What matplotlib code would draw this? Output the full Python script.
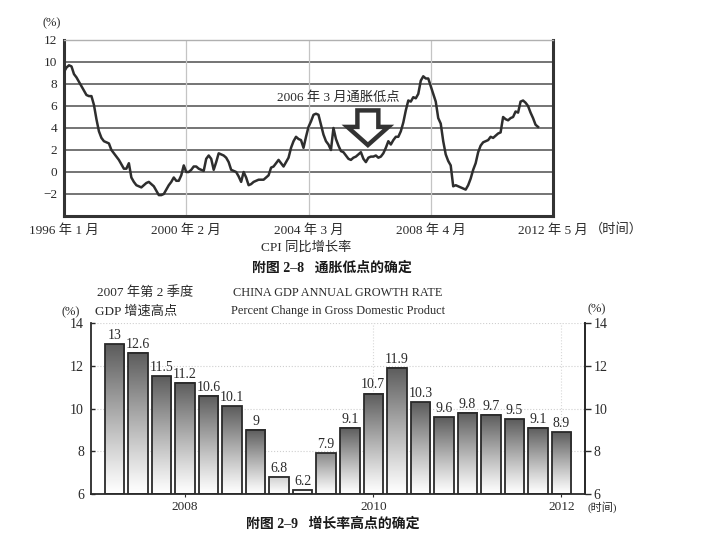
import numpy as np
import matplotlib
matplotlib.use('Agg')
import matplotlib.pyplot as plt
from matplotlib.patches import Polygon

# ---------------- data ----------------
# CPI year-on-year growth (%), monthly from 1996-01
cpi = [9.1, 9.5, 9.7, 9.6, 8.9, 8.6, 8.2, 7.8, 7.4, 7.0, 6.9, 6.9,
       6.1, 4.8, 3.7, 3.1, 2.8, 2.7, 2.6, 2.0, 1.7, 1.4, 1.1, 0.7,
       0.3, 0.3, 0.8, -0.5, -0.9, -1.2, -1.3, -1.4, -1.2, -1.0, -0.9, -1.1,
       -1.3, -1.7, -2.1, -2.1, -2.0, -1.6, -1.2, -0.9, -0.5, -0.8, -0.8, -0.3,
       0.6, 0.0, 0.0, 0.2, 0.5, 0.5, 0.3, 0.2, 0.1, 1.2, 1.5, 1.2,
       0.2, 0.9, 1.7, 1.6, 1.5, 1.3, 0.9, 0.2, 0.1, 0.0, -0.4, -0.9,
       0.0, -0.5, -1.2, -1.1, -0.9, -0.8, -0.7, -0.7, -0.7, -0.5, -0.3, 0.4,
       0.5, 0.8, 1.1, 0.8, 0.5, 0.9, 1.3, 2.2, 2.8, 3.2, 3.0, 2.9,
       2.2, 3.2, 4.1, 4.6, 5.2, 5.3, 5.2, 4.3, 3.4, 2.8, 2.5, 2.0,
       4.0, 3.0, 2.4, 1.9, 1.8, 1.5, 1.2, 1.1, 1.3, 1.4, 1.6, 1.8,
       1.2, 0.9, 1.3, 1.4, 1.4, 1.5, 1.3, 1.4, 1.7, 2.2, 2.8, 2.5,
       2.9, 3.2, 3.2, 3.7, 4.5, 5.6, 6.5, 6.4, 6.8, 6.7, 7.1, 8.3,
       8.7, 8.5, 8.5, 7.8, 7.1, 6.4, 4.9, 4.4, 2.8, 1.6, 1.0, 0.6,
       -1.3, -1.2, -1.3, -1.4, -1.5, -1.6, -1.2, -0.6, 0.2, 0.8, 1.8, 2.4,
       2.7, 2.8, 2.9, 3.2, 3.1, 3.3, 3.5, 3.6, 5.0, 4.8, 4.7, 4.9,
       5.0, 5.5, 5.4, 6.4, 6.5, 6.3, 6.0, 5.4, 4.9, 4.3, 4.1]
cpi_tick_pos = [0, 49, 98, 147, 196]
cpi_tick_labels = ['1996 年 1 月', '2000 年 2 月', '2004 年 3 月', '2008 年 4 月', '2012 年 5 月']
cpi_yticks = [-2, 0, 2, 4, 6, 8, 10, 12]
low_point_month = 121.8  # 2006-03

# GDP growth (%), quarterly 2007Q2 - 2012Q1
gdp_vals = [13, 12.6, 11.5, 11.2, 10.6, 10.1, 9, 6.8, 6.2, 7.9,
            9.1, 10.7, 11.9, 10.3, 9.6, 9.8, 9.7, 9.5, 9.1, 8.9]
gdp_tick_idx = [3, 11, 19]
gdp_tick_labels = ['2008', '2010', '2012']
gdp_yticks = [6, 8, 10, 12, 14]

# ---------------- style ----------------
plt.rcParams['font.family'] = ['Liberation Serif', 'Noto Sans CJK SC', 'DejaVu Sans']
plt.rcParams['axes.unicode_minus'] = True
W, H = 707, 540
fig = plt.figure(figsize=(7.07, 5.40), dpi=100)
fig.patch.set_facecolor('white')

def fx(x):
    return x / W

def fy(y):
    return 1 - y / H

TXT = '#2a2a2a'

# ================= top chart: CPI =================
ax1 = fig.add_axes([fx(64), fy(216), fx(553) - fx(64), fy(40) - fy(216)])
months = np.arange(len(cpi))
for yv in cpi_yticks[:-1]:
    ax1.axhline(yv, color='#5c5c5c', lw=1.2, zorder=1)
for xv in cpi_tick_pos[1:-1]:
    ax1.axvline(xv, color='#c4c4c4', lw=0.9, zorder=1)
ax1.plot(months, cpi, color='#2e2e2e', lw=1.8, zorder=3, solid_joinstyle='round')
ax1.set_xlim(0, 196)
ax1.set_ylim(-4, 12)
ax1.set_xticks(cpi_tick_pos)
ax1.set_xticklabels(cpi_tick_labels)
ax1.set_yticks(cpi_yticks)
ax1.set_yticklabels([str(v).replace('-', '−') for v in cpi_yticks])
ax1.tick_params(length=0, labelsize=9.5, colors=TXT)
ax1.tick_params(axis='x', pad=6)
ax1.tick_params(axis='y', pad=5)
for s in ['left', 'bottom', 'right']:
    ax1.spines[s].set_color('#333333')
    ax1.spines[s].set_linewidth(2.2)
ax1.spines['top'].set_color('#b0b0b0')
ax1.spines['top'].set_linewidth(1.0)

# hollow down arrow marking the low point
cx = low_point_month
sw, hw = 4.2, 8.2
arrow_pts = [(cx - sw, 5.6), (cx + sw, 5.6), (cx + sw, 4.1), (cx + hw, 4.1),
             (cx, 2.45), (cx - hw, 4.1), (cx - sw, 4.1)]
ax1.add_patch(Polygon(arrow_pts, closed=True, facecolor='white', edgecolor='#333333',
                      lw=3.2, joinstyle='miter', zorder=5))
ax1.text(cx - 12, 6.8, '2006 年 3 月通胀低点', ha='center', va='center',
         fontsize=9.5, color=TXT, zorder=6)

fig.text(fx(52), fy(23), '(%)', ha='center', va='center', fontsize=9, color=TXT)
fig.text(fx(590), fy(229), '（时间）', ha='left', va='center', fontsize=9.5, color=TXT)
fig.text(fx(306), fy(248), 'CPI 同比增长率', ha='center', va='center', fontsize=9.5, color=TXT)
fig.text(fx(332), fy(268), '附图 2–8   通胀低点的确定', ha='center', va='center',
         fontsize=10, fontweight='bold', color='#1a1a1a')

# ================= bottom chart: GDP =================
ax2 = fig.add_axes([fx(91), fy(494), fx(585) - fx(91), fy(323) - fy(494)])
xs = np.arange(len(gdp_vals))
bw = 0.83
base = 6
for yv in gdp_yticks[1:]:
    ax2.axhline(yv, color='#cfcfcf', lw=0.8, ls=':', zorder=1)
for xi in gdp_tick_idx[1:]:
    ax2.axvline(xi, color='#d8d8d8', lw=0.8, ls=':', zorder=1)

for x, h in zip(xs, gdp_vals):
    t = np.linspace(0, 1, 120).reshape(-1, 1)
    top_dark = 0.64 * min(1.0, (h - base) / 2.6)
    v = 1 - top_dark * t ** 1.1
    img = np.dstack([v, v, v])
    ax2.imshow(img, extent=[x - bw / 2, x + bw / 2, base, h], aspect='auto',
               origin='lower', interpolation='bilinear', zorder=2)
ax2.bar(xs, np.array(gdp_vals) - base, bottom=base, width=bw, facecolor='none',
        edgecolor='#2a2a2a', lw=1.3, zorder=3)
for x, h in zip(xs, gdp_vals):
    lab = str(int(h)) if float(h).is_integer() else str(h)
    ax2.text(x, h + 0.1, lab, ha='center', va='bottom', fontsize=10, color=TXT, zorder=4)

ax2.set_xlim(-1, 20)
ax2.set_ylim(6, 14)
ax2.set_xticks(gdp_tick_idx)
ax2.set_xticklabels(gdp_tick_labels)
ax2.set_yticks(gdp_yticks)
ax2.tick_params(axis='y', direction='in', length=3, width=1, labelsize=10, colors=TXT, pad=5)
ax2.tick_params(axis='x', direction='out', length=2, width=0.8, labelsize=9.5, colors=TXT, pad=3)
ax2.spines['top'].set_visible(False)
for s in ['left', 'bottom', 'right']:
    ax2.spines[s].set_color('#2a2a2a')
    ax2.spines[s].set_linewidth(1.3)

ax2r = ax2.twinx()
ax2r.set_ylim(6, 14)
ax2r.set_yticks(gdp_yticks)
ax2r.tick_params(axis='y', direction='out', length=4, width=1, labelsize=10, colors=TXT, pad=2)
ax2r.spines['top'].set_visible(False)
ax2r.spines['right'].set_color('#2a2a2a')
ax2r.spines['right'].set_linewidth(1.3)
ax2r.spines['left'].set_visible(False)
ax2r.spines['bottom'].set_visible(False)

fig.text(fx(97), fy(293), '2007 年第 2 季度', ha='left', va='center', fontsize=9.5, color=TXT)
fig.text(fx(95), fy(312), 'GDP 增速高点', ha='left', va='center', fontsize=9.5, color=TXT)
fig.text(fx(62), fy(312), '(%)', ha='left', va='center', fontsize=9, color=TXT)
fig.text(fx(338), fy(293), 'CHINA GDP ANNUAL GROWTH RATE', ha='center', va='center',
         fontsize=8.8, color=TXT)
fig.text(fx(338), fy(311), 'Percent Change in Gross Domestic Product', ha='center',
         va='center', fontsize=8.8, color=TXT)
fig.text(fx(588), fy(309), '(%)', ha='left', va='center', fontsize=9, color=TXT)
fig.text(fx(587), fy(507), '(时间)', ha='left', va='center', fontsize=8, color=TXT)
fig.text(fx(333), fy(524), '附图 2–9   增长率高点的确定', ha='center', va='center',
         fontsize=10, fontweight='bold', color='#1a1a1a')

fig.savefig('out.png', dpi=100, facecolor='white')
